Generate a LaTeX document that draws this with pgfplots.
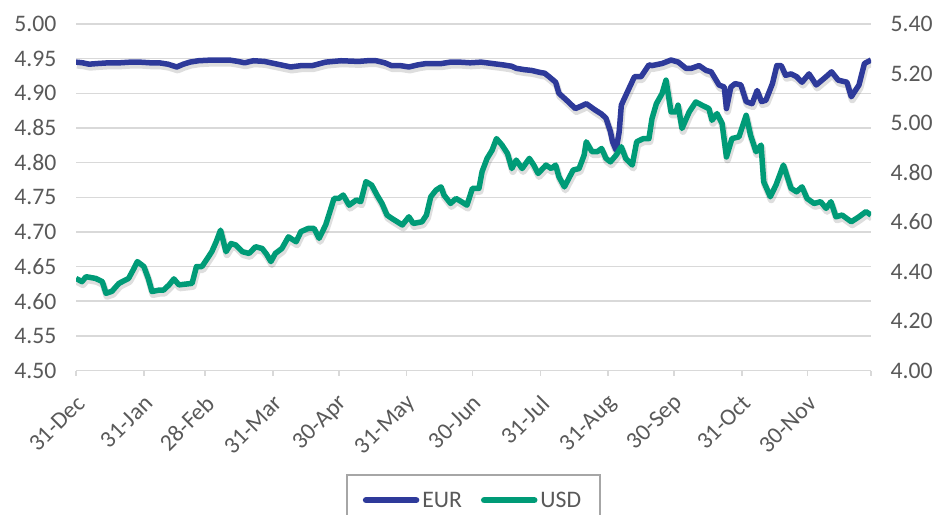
\documentclass[border=0pt]{standalone}
\usepackage{pgfplots}
\usepackage{pgfplotstable}
\pgfplotsset{compat=1.18}
\usepackage{fontspec}
\setmainfont{Carlito}
\definecolor{eur}{HTML}{2E3A9A}
\definecolor{usd}{HTML}{009B77}
\definecolor{gridc}{HTML}{D9D9D9}
\definecolor{txt}{HTML}{595959}
\definecolor{legc}{HTML}{A6A6A6}
\pgfplotstableread{
d v
0 4.945
3 4.944
6 4.942
10 4.943
15 4.944
20 4.944
25 4.945
29 4.945
34 4.944
38 4.944
42 4.942
46 4.938
49 4.942
52 4.945
56 4.947
62 4.948
70 4.948
74 4.946
77 4.944
81 4.947
86 4.946
92 4.942
98 4.938
103 4.940
108 4.940
114 4.945
121 4.947
129 4.946
133 4.947
137 4.947
141 4.944
144 4.940
148 4.940
152 4.938
156 4.941
160 4.943
167 4.943
171 4.945
175 4.945
180 4.944
185 4.945
190 4.943
195 4.941
199 4.939
201 4.936
205 4.934
208 4.933
212 4.930
214 4.929
216 4.924
219 4.916
220.5 4.900
224 4.890
228 4.878
231 4.882
233 4.885
237 4.876
240 4.870
242 4.864
244 4.845
245 4.830
246.6 4.818
248 4.844
249 4.883
252.5 4.907
255 4.924
258 4.924
261.6 4.941
263 4.940
267.6 4.943
271.7 4.948
275 4.945
278.5 4.936
281 4.936
284.5 4.940
287.7 4.933
290 4.931
293.6 4.912
296 4.909
297 4.878
299 4.909
301 4.914
303.6 4.912
306 4.888
308.7 4.885
311 4.904
313 4.888
315 4.890
318 4.914
320 4.940
322 4.940
324 4.926
326.5 4.928
329 4.924
331.5 4.916
334.7 4.928
338 4.912
342.5 4.924
345 4.931
348 4.919
352 4.916
354 4.895
357.5 4.912
360 4.943
363 4.948
}\eurdata
\pgfplotstableread{
d v
0 4.372
2.7 4.359
4.6 4.379
9 4.372
12 4.359
13.7 4.312
16.4 4.320
19.6 4.352
24 4.372
26.5 4.413
28 4.440
31 4.420
33 4.372
34.7 4.319
38 4.325
40 4.325
42.5 4.346
44.7 4.370
47 4.346
53 4.352
55 4.420
57.5 4.420
60 4.453
62 4.480
64 4.520
66 4.567
68.5 4.480
70.8 4.513
73 4.507
76 4.480
79 4.473
82 4.500
85 4.493
87 4.470
89 4.440
91 4.473
94 4.493
97 4.540
100.5 4.520
102.7 4.561
106 4.574
108.7 4.574
111 4.534
114 4.588
116.4 4.655
117.8 4.695
120 4.695
122 4.709
124.7 4.668
128 4.689
130 4.682
132.4 4.763
135 4.749
137.4 4.709
139.7 4.675
142 4.628
144.3 4.614
149 4.588
152 4.621
154 4.594
158 4.601
160 4.628
162 4.702
164.4 4.729
166.7 4.742
168 4.709
171 4.675
173.5 4.695
176 4.682
178.5 4.668
181 4.736
184 4.736
185.4 4.803
187.7 4.857
190 4.890
192 4.937
194.5 4.911
197 4.877
199 4.816
201 4.850
203.7 4.816
207 4.857
209 4.830
211 4.796
214.6 4.830
217 4.816
219 4.830
220.5 4.783
223 4.742
225 4.776
227 4.810
229.7 4.816
232 4.870
233 4.924
235.6 4.884
238 4.884
240 4.897
242 4.857
244 4.843
246.6 4.870
249 4.904
251 4.857
254 4.830
256 4.924
259 4.937
261.6 4.937
263 5.018
265 5.078
267.6 5.119
269.4 5.173
271.7 5.045
274 5.045
274.9 5.072
276.7 4.978
280 5.045
283 5.085
285.8 5.072
289 5.058
290.4 5.011
292.7 5.038
295 4.998
297 4.863
299.5 4.937
302.7 4.944
306 5.031
308 4.951
310.5 4.884
312.8 4.911
314 4.763
317 4.702
319.6 4.749
323 4.830
326.5 4.736
329 4.722
331.5 4.742
333.8 4.695
337 4.675
340 4.682
342.5 4.655
344.7 4.682
347 4.621
349.8 4.628
354 4.601
357.5 4.621
360.7 4.642
363 4.628
}\usddata
\begin{document}
\begin{tikzpicture}
\pgfplotsset{
  base/.style={
    scale only axis, width=795pt, height=346.5pt,
    at={(0pt,0pt)}, anchor=south west,
    xmin=0, xmax=363,
    tick align=outside, major tick length=5pt,
    font=\fontsize{23.7}{28}\selectfont,
    tick label style={text=txt},
    /pgf/number format/assume math mode=true,
    yticklabel style={/pgf/number format/fixed, /pgf/number format/fixed zerofill, /pgf/number format/precision=2},
  },
  shadow/.style={draw=black, opacity=0.13, line width=7pt, line join=round, xshift=1pt, yshift=-3pt},
  eurline/.style={draw=eur, line width=5.5pt, line join=round},
  usdline/.style={draw=usd, line width=5.5pt, line join=round},
}
\begin{axis}[base,
  ymin=4.5, ymax=5.0,
  ytick={4.50,4.55,4.60,4.65,4.70,4.75,4.80,4.85,4.90,4.95,5.00},
  ymajorgrids, grid style={gridc, line width=1.5pt},
  axis x line*=bottom, axis y line*=left,
  x axis line style={gridc, line width=1.5pt, -},
  y axis line style={draw=none},
  ytick style={draw=none},
  xtick style={gridc, line width=1.5pt},
  xtick={0,31,59,90,120,151,181,212,243,273,304,334,363},
  xticklabels={31-Dec,31-Jan,28-Feb,31-Mar,30-Apr,31-May,30-Jun,31-Jul,31-Aug,30-Sep,31-Oct,30-Nov,{}},
  xticklabel style={xshift=5pt, yshift=-24pt, rotate=45, anchor=east, inner sep=0pt},
  yticklabel style={xshift=-11pt},
]
\addplot[shadow] table[x=d, y=v] {\eurdata};
\addplot[eurline] table[x=d, y=v] {\eurdata};
\end{axis}
\begin{axis}[base,
  ymin=4.0, ymax=5.4,
  ytick={4.0,4.2,4.4,4.6,4.8,5.0,5.2,5.4},
  axis x line=none, axis y line*=right,
  y axis line style={draw=none},
  ytick style={draw=none},
  yticklabel style={xshift=11pt},
  legend columns=2,
  legend style={at={(0.5,-0.2987)}, anchor=north, draw=legc, line width=1.5pt,
    font=\fontsize{23.7}{28}\selectfont, text=txt, inner xsep=16pt, inner ysep=15pt,
    nodes={inner xsep=3pt, text=txt},
    /tikz/every even column/.append style={column sep=16pt}},
  legend image code/.code={\draw[#1, line width=6.5pt, line cap=round, opacity=1] (3pt,0pt) -- (53pt,0pt);},
]
\addlegendimage{eurline}
\addlegendentry{EUR}
\addplot[shadow, forget plot] table[x=d, y=v] {\usddata};
\addplot[usdline] table[x=d, y=v] {\usddata};
\addlegendentry{USD}
\end{axis}
\pgfresetboundingbox
\useasboundingbox (-76pt,-143.5pt) rectangle (865pt,370.5pt);
\end{tikzpicture}
\end{document}
